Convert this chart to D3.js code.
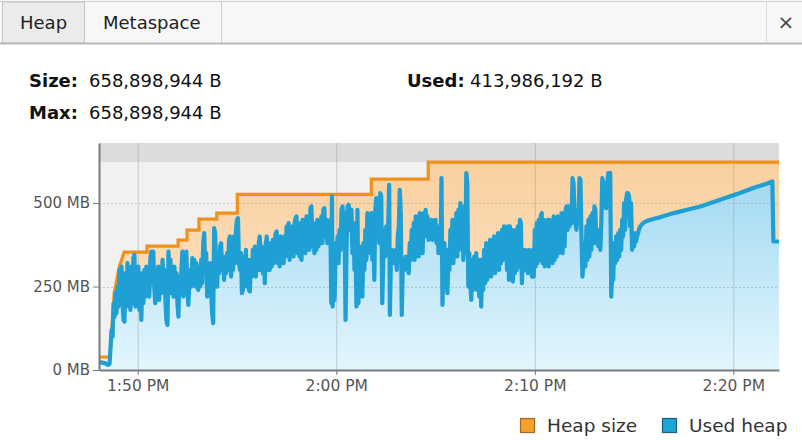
<!DOCTYPE html>
<html><head><meta charset="utf-8">
<script src="https://cdn.jsdelivr.net/npm/d3@7"></script>
<style>
body{margin:0;background:#fff;}
svg{display:block;font-family:"DejaVu Sans",Verdana,sans-serif;}
</style></head><body>
<svg id="c" width="802" height="440"></svg>
<script>
// ---------- data ----------
const tabs = ["Heap", "Metaspace"];
const infoLabels = ["Size:", "Max:", "Used:"];
const infoValues = ["658,898,944 B", "658,898,944 B", "413,986,192 B"];
const legendLabels = ["Heap size", "Used heap"];
const yTicksMB = [0, 250, 500];
const xTickTimes = ["13:50", "14:00", "14:10", "14:20"];
const startTime = "13:48:00";         // origin of elapsed seconds
const domainSec = [3, 2058];          // visible time range (s since start)
const maxMB = 623;                    // heap max (grey band)
const heapSec = [3,36,49,64,79,148,148,242,242,269,269,305,305,359,359,421,421,826,826,998,998,2058];
const heapMB  = [39,39,231,308,353,353,371,371,389,389,419,419,452,452,470,470,526,526,572,572,623,623];
// used heap: [seconds since start, MB]
const usedHeap = [
[3,24],[12,22],[22,20],[30,15],[35,18],
[38,70],[41,120],[44,100],[47,200],[50,160],[53,230],[56,170],[59,250],[62,190],[65,300],[68,200],[71,310],[74,210],[77,150],[80,145],[83,290],[86,190],[89,320],[92,200],[95,300],[98,180],[101,310],[104,200],[107,335],[110,345],[113,190],
[116,300],[119,200],[122,310],[125,180],[128,260],[131,150],[134,290],[137,200],[140,300],[143,220],[146,310],[149,230],[152,300],[155,220],[158,330],[161,355],[164,260],[167,355],[170,250],[173,200],[176,300],[179,220],[182,310],[185,210],[188,290],[191,230],[195,330],[198,250],[201,300],[204,200],[207,145],[210,135],[213,355],[216,250],[219,330],[222,230],[225,300],[228,220],[231,310],[234,240],[237,290],[240,200],[243,160],[246,280],[249,230],[252,300],[255,355],[258,220],[261,350],[264,260],[267,355],[270,240],[273,195],[276,260],[279,300],[282,250],[285,335],[288,270],[291,330],[294,250],[297,320],[300,280],
[303,240],[306,310],[309,250],[312,330],[315,260],[318,380],[321,410],[324,300],[327,350],[330,220],[333,300],[336,260],[339,320],[342,230],[345,170],[348,140],[351,425],[354,410],[357,300],[360,250],[363,340],[366,290],[369,370],[372,380],[375,300],[378,340],[381,270],[384,330],[387,290],[390,350],[393,300],[396,390],[399,400],[402,280],[405,380],[408,300],[411,400],[414,320],[417,420],[420,450],[423,455],[426,320],
[429,300],[432,350],[435,230],[438,240],[441,340],[444,260],[447,360],[450,250],[453,330],[456,240],[459,235],[462,330],[465,280],[468,360],[471,290],[474,370],[477,280],[480,360],[483,300],[486,380],[489,400],[492,300],[495,370],[498,290],[501,360],[504,260],[507,380],[510,400],[513,300],[516,370],[519,300],[522,380],[525,310],[528,390],[531,320],[534,380],[537,410],[540,415],[543,320],[546,390],[549,310],[552,400],[555,330],[558,380],[561,320],[564,400],[567,340],[570,430],[573,350],[576,440],[579,330],[582,420],[585,350],[588,430],[591,340],[594,440],[597,455],[600,460],[603,350],[606,430],[609,340],[612,440],[615,330],[618,450],[621,360],[624,440],[627,350],[630,460],[633,370],[636,450],[639,360],[642,485],[645,490],[648,370],[651,440],[654,350],[657,430],[660,360],[663,450],[666,370],[669,440],[672,380],[675,460],[678,380],[681,480],[684,485],[687,400],[690,450],[693,380],[696,440],[699,390],[702,450],[705,200],[707,520],[709,190],[712,350],[715,210],[718,380],[721,330],[724,400],[727,320],[730,420],[733,360],[736,480],[739,490],[742,400],[745,470],[748,150],[751,360],[754,490],[757,495],[760,480],[763,420],[766,480],[769,350],[772,440],[775,300],[778,390],[781,190],[784,480],[787,200],[790,340],[793,260],[796,370],[799,220],[802,380],[805,300],[808,420],[811,330],[814,470],[817,400],[820,460],
[823,350],[826,470],[829,330],[832,440],[835,270],[838,480],[841,515],[844,440],[847,480],[850,380],[853,530],[856,520],[859,200],[862,330],[865,420],[868,340],[871,430],[874,350],[877,440],[880,555],[882,165],[885,330],[888,360],[891,320],[894,350],[897,320],[900,360],[903,300],[906,400],[909,430],[912,540],[915,470],[918,165],[921,310],[924,330],[927,300],[930,340],[933,310],[936,330],[939,290],[942,380],[945,330],[948,420],[951,360],[954,440],[957,330],[960,460],[963,360],[966,450],[969,340],[972,470],[975,380],[978,460],[981,350],[984,470],[987,400],[990,480],[993,420],[996,460],[999,390],[1002,440],[1005,400],[1008,450],[1011,390],[1014,440],[1017,400],[1020,450],[1023,380],[1026,430],[1029,350],[1032,420],[1035,360],[1038,575],[1041,195],[1044,300],[1047,380],[1050,250],[1053,360],[1056,230],[1059,340],[1062,300],[1065,420],[1068,330],[1071,450],[1074,320],[1077,440],[1080,350],[1083,470],[1086,340],[1089,480],[1092,360],[1095,500],[1098,380],[1101,480],[1104,330],[1107,490],[1110,350],[1113,590],[1116,560],[1119,250],[1122,350],[1125,260],[1128,210],[1131,330],[1134,240],[1137,340],[1140,260],[1143,350],[1146,240],[1149,330],[1152,220],[1155,330],[1158,190],[1161,330],[1164,240],[1167,360],[1170,260],[1173,380],[1176,270],[1179,370],[1182,290],[1185,390],[1188,280],[1191,380],[1194,300],[1197,400],[1200,290],[1203,390],[1206,310],[1209,410],[1212,300],[1215,400],[1218,320],[1221,420],[1224,330],[1227,430],[1230,340],
[1233,420],[1236,300],[1239,430],[1242,270],[1245,430],[1248,280],[1251,420],[1254,265],[1257,400],[1260,290],[1263,420],[1266,300],[1269,430],[1272,310],[1275,450],[1278,440],[1281,260],[1284,330],[1287,300],[1290,360],[1293,300],[1296,350],[1299,290],[1302,360],[1305,300],[1308,350],[1311,280],[1314,360],[1317,280],[1320,420],[1323,310],[1326,440],[1329,320],[1332,450],[1335,330],[1338,460],[1341,470],[1344,320],[1347,450],[1350,310],[1353,440],[1356,320],[1359,450],[1362,310],[1365,450],[1368,330],[1371,440],[1374,320],[1377,460],[1380,330],[1383,450],[1386,340],[1389,460],[1392,350],[1395,440],[1398,360],[1401,470],[1404,350],[1407,460],[1410,370],[1413,480],[1416,490],[1419,420],[1422,490],[1425,430],[1428,480],[1431,440],[1434,575],[1437,560],[1440,470],[1443,440],[1446,420],[1449,480],[1452,440],[1455,575],[1458,570],[1461,400],[1464,280],[1467,320],[1470,380],[1473,310],[1476,430],[1479,330],[1482,450],[1485,340],[1488,460],[1491,360],[1494,470],[1497,380],[1500,490],[1503,480],[1506,380],[1509,420],[1512,370],[1515,400],[1518,360],[1521,440],[1524,575],[1527,560],[1530,490],[1533,520],[1536,485],[1539,560],[1542,590],[1545,585],[1548,590],[1551,220],[1554,300],[1557,270],[1560,380],[1563,320],[1566,400],[1569,330],[1572,410],[1575,340],[1578,420],[1581,360],[1584,450],[1587,400],[1590,500],[1593,420],[1596,510],[1599,530],[1602,530],[1605,520],[1608,430],[1611,500],[1614,360],[1617,400],[1620,370],[1623,410],[1626,385],[1629,400],[1632,410],
[1636,425],[1642,435],[1650,442],[1660,447],[1680,453],[1700,458],[1740,470],[1780,480],[1820,490],[1860,503],[1900,517],[1940,530],[1980,545],[2020,558],[2038,565],[2041,385],[2058,385]
];

// ---------- helpers ----------
const base = new Date("2024-01-01T" + startTime);
const toDate = s => new Date(base.getTime() + s * 1000);
const tickDates = xTickTimes.map(t => new Date("2024-01-01T" + t + ":00"));

const svg = d3.select("#c");
const L = 99, R = 779, T = 143, B = 370;
const x = d3.scaleTime().domain(domainSec.map(toDate)).range([L, R]);
const y = d3.scaleLinear().domain([0, 680]).range([B, T]);

// ---------- tab bar ----------
svg.append("rect").attr("x",0).attr("y",0).attr("width",802).attr("height",44).attr("fill","#f7f7f7");
svg.append("line").attr("x1",0).attr("x2",802).attr("y1",1.5).attr("y2",1.5).attr("stroke","#d0d0d0");
svg.append("rect").attr("x",2.5).attr("y",2).attr("width",82).attr("height",41).attr("fill","#ebebeb").attr("stroke","#c4c4c4");
svg.append("line").attr("x1",221.5).attr("x2",221.5).attr("y1",2).attr("y2",43).attr("stroke","#d0d0d0");
svg.append("line").attr("x1",766.5).attr("x2",766.5).attr("y1",2).attr("y2",43).attr("stroke","#d8d8d8");
svg.append("line").attr("x1",0).attr("x2",802).attr("y1",43.5).attr("y2",43.5).attr("stroke","#b8b8b8").attr("stroke-width",2);
const tabX = [20, 103];
tabs.forEach((t,i)=> svg.append("text").attr("x",tabX[i]).attr("y",29).attr("font-size",18).attr("fill","#222").text(t));
svg.append("text").attr("x",786).attr("y",29).attr("text-anchor","middle").attr("font-size",20).attr("fill","#444").text("\u00d7");

// ---------- info text ----------
const infoPos = [[29,89,87],[29,89,119],[407,470,87]];
infoLabels.forEach((lab,i)=>{
  const p = infoPos[i];
  svg.append("text").attr("x",p[0]).attr("y",p[2]).attr("font-size",18).attr("font-weight","bold").attr("fill","#111").text(lab);
  svg.append("text").attr("x",p[1]).attr("y",p[2]).attr("font-size",18).attr("fill","#111").text(infoValues[i]);
});

// ---------- gradients ----------
const defs = svg.append("defs");
const gB = defs.append("linearGradient").attr("id","gBlue").attr("gradientUnits","userSpaceOnUse")
  .attr("x1",0).attr("x2",0).attr("y1",y(600)).attr("y2",y(0));
gB.append("stop").attr("offset","0%").attr("stop-color","#9ed8f1");
gB.append("stop").attr("offset","100%").attr("stop-color","#e3f6fd");
const gO = defs.append("linearGradient").attr("id","gOrange").attr("gradientUnits","userSpaceOnUse")
  .attr("x1",0).attr("x2",0).attr("y1",y(630)).attr("y2",y(0));
gO.append("stop").attr("offset","0%").attr("stop-color","#f9cf9e");
gO.append("stop").attr("offset","100%").attr("stop-color","#fde9d2");

// ---------- plot ----------
svg.append("rect").attr("x",L).attr("y",T).attr("width",R-L).attr("height",B-T).attr("fill","#f1f1f1");
svg.append("rect").attr("x",L).attr("y",T).attr("width",R-L).attr("height",y(maxMB)-T).attr("fill","#dcdcdc");

const heapPts = heapSec.map((s,i)=>[toDate(s), heapMB[i]]);
const usedPts = usedHeap.map(d=>[toDate(d[0]), d[1]]);

const area = d3.area().x(d=>x(d[0])).y0(y(0)).y1(d=>y(d[1]));
const line = d3.line().x(d=>x(d[0])).y(d=>y(d[1]));

svg.append("path").attr("d", area(heapPts)).attr("fill","url(#gOrange)");
svg.append("path").attr("d", area(usedPts)).attr("fill","url(#gBlue)");

// grid
svg.append("g").selectAll("line").data(tickDates).join("line")
  .attr("x1",d=>x(d)+0.5).attr("x2",d=>x(d)+0.5).attr("y1",T).attr("y2",B)
  .attr("stroke","#a0a0a0").attr("stroke-opacity",0.5);
svg.append("g").selectAll("line").data(yTicksMB.filter(v=>v>0)).join("line")
  .attr("x1",L).attr("x2",R).attr("y1",d=>Math.round(y(d))+0.5).attr("y2",d=>Math.round(y(d))+0.5)
  .attr("stroke","#a0a0a0").attr("stroke-opacity",0.5).attr("stroke-dasharray","2,2");

svg.append("path").attr("d", line(heapPts)).attr("fill","none").attr("stroke","#f0911c").attr("stroke-width",3.2).attr("stroke-linejoin","miter");
svg.append("path").attr("d", line(usedPts)).attr("fill","none").attr("stroke","#1ea0d4").attr("stroke-width",4.2).attr("stroke-linejoin","round");

// axes
const yAxis = d3.axisLeft(y).tickValues(yTicksMB).tickFormat(d=>d+" MB").tickSize(6).tickSizeOuter(0).tickPadding(3);
const gy = svg.append("g").attr("transform",`translate(${L},0)`).call(yAxis);
const xAxis = d3.axisBottom(x).tickValues(tickDates).tickFormat(d3.timeFormat("%-I:%M %p")).tickSize(5).tickSizeOuter(0).tickPadding(5);
const gx = svg.append("g").attr("transform",`translate(0,${B})`).call(xAxis);
[gy,gx].forEach(g=>{
  g.select(".domain").attr("stroke","#7a7a7a").attr("stroke-width",2);
  g.selectAll(".tick line").attr("stroke","#7a7a7a");
  g.selectAll("text").attr("fill","#555").attr("font-family","DejaVu Sans, Verdana, sans-serif");
});
gy.selectAll("text").attr("font-size",15);
gx.selectAll("text").attr("font-size",15.5);

// legend
const legColors = [["#f5a12a","#9a6a20"],["#1ea5d8","#1a5f80"]];
const legX = [520, 662];
legendLabels.forEach((lab,i)=>{
  svg.append("rect").attr("x",legX[i]+0.5).attr("y",418.5).attr("width",14).attr("height",14)
    .attr("fill",legColors[i][0]).attr("stroke",legColors[i][1]).attr("stroke-width",1.2);
  svg.append("text").attr("x",legX[i]+27).attr("y",432).attr("font-size",18.5).attr("fill","#333").text(lab);
});
</script>
</body></html>
